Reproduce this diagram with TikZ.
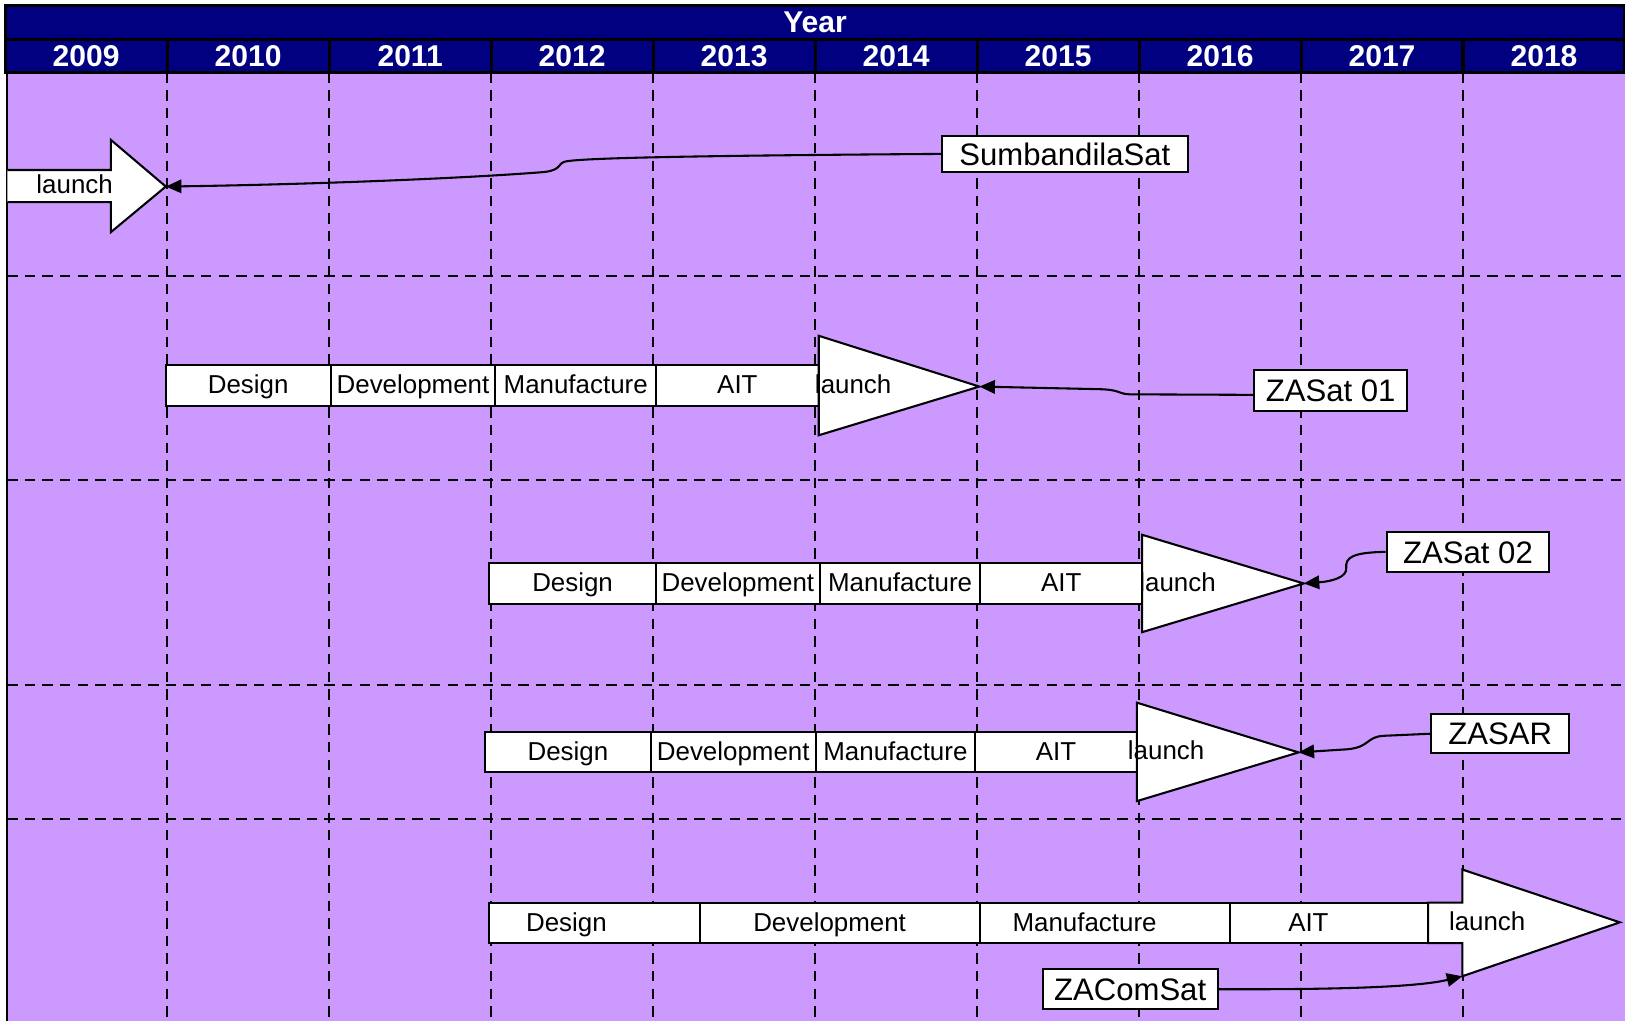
\documentclass[tikz,border=0pt]{standalone}
\usepackage{fontspec}
\setmainfont{Liberation Sans}
\usetikzlibrary{arrows.meta}

\definecolor{chartbg}{HTML}{CC99FF}
\definecolor{headblue}{HTML}{000080}

\tikzset{
  headcell/.style={draw=black, line width=1.5pt, fill=headblue, text=white,
    font=\fontsize{14.5}{16}\selectfont\bfseries, inner sep=0pt},
  phase/.style={draw=black, line width=1pt, fill=white, minimum height=19.5pt,
    inner sep=0pt, text height=10pt, text depth=2pt, font=\fontsize{12.5}{14}\selectfont},
  phasetext/.style={inner sep=0pt, text height=10pt, text depth=2pt, font=\fontsize{12.5}{14}\selectfont},
  satname/.style={draw=black, line width=1pt, fill=white, inner sep=0pt,
    text height=12pt, text depth=1.2pt, font=\fontsize{15}{17}\selectfont},
  launchbox/.style={draw=black, line width=1pt, fill=white},
  gridline/.style={dash pattern=on 5pt off 3.5pt, line width=0.8pt},
  pointer/.style={line width=1pt, -{Triangle[length=7.5pt,width=6.5pt]}}
}

\begin{document}
\begin{tikzpicture}[x=0.5pt, y=-0.5pt]
  \useasboundingbox (0,0) rectangle (1568,985);
  \fill[chartbg] (7,70) rectangle (1568,985);
  \draw[line width=0.75pt] (7,70) -- (7,985);
  % header
  \node[headcell, minimum width=781pt, minimum height=16.5pt] (yearhead) at (786.5,21.5) {Year};
  \foreach \i in {0,...,9} {
    \pgfmathtruncatemacro{\yr}{2009+\i}
    \node[headcell, minimum width=78.15pt, minimum height=16pt] (y\yr) at ({83.15+156.3*\i},54) {\yr};
  }
  % grid
  \foreach \i in {1,...,9}
    \draw[gridline] ({5+156.3*\i},70) -- ({5+156.3*\i},985);
  \foreach \y in {266,463,661,790}
    \draw[gridline] (7,\y) -- (1568,\y);

  % SumbandilaSat
  \draw[launchbox] (7,164) -- (107,164) -- (107,135) -- (160,180) coordinate (tip1)
    -- (107,224) -- (107,195) -- (7,195);
  \node[phasetext] (launch1) at (72,179) {launch};
  \node[satname, minimum width=118.5pt, minimum height=17.5pt] (sumbandila) at (1027.5,148.5) {SumbandilaSat};
  \draw[pointer] (sumbandila.west) .. controls (700,150) and (560,152) .. (545,156)
    .. controls (538,158) and (542,164) .. (525,166)
    .. controls (450,172) and (300,178) .. (tip1);

  % ZASat 01
  \node[phase, minimum width=79.5pt] (design1) at (239.5,372) {Design};
  \node[phase, minimum width=79.5pt] (devel1) at (398.5,372) {Development};
  \node[phase, minimum width=77.5pt] (manuf1) at (555.5,372) {Manufacture};
  \node[phase, minimum width=78.5pt] (ait1) at (711.5,372) {AIT};
  \draw[launchbox] (790,324) -- (945,373) coordinate (tip2) -- (790,420) -- cycle;
  \node[phasetext, anchor=west] (launch2) at (786,372) {launch};
  \node[satname, minimum width=74pt, minimum height=20pt] (zasat1) at (1284,377) {ZASat 01};
  \draw[pointer] ([yshift=-2pt]zasat1.west) -- (1090,380.5)
    .. controls (1078,380) and (1082,376) .. (1060,375.5) -- (tip2);

  % ZASat 02
  \node[phase, minimum width=80.5pt] (design2) at (552.5,563) {Design};
  \node[phase, minimum width=79pt] (devel2) at (712,563) {Development};
  \node[phase, minimum width=77.5pt] (manuf2) at (868.5,563) {Manufacture};
  \node[phase, minimum width=78pt] (ait2) at (1024,563) {AIT};
  \draw[launchbox] (1102,516) -- (1258,563) coordinate (tip3) -- (1102,610) -- cycle;
  \node[phasetext, anchor=west] (launch3) at (1099,563) {launch};
  \node[satname, minimum width=78.5pt, minimum height=19.5pt] (zasat2) at (1416.5,532.5) {ZASat 02};
  \draw[pointer] (zasat2.west) .. controls (1305,533) and (1298,538) .. (1299,548)
    .. controls (1300,557) and (1285,561) .. (tip3);

  % ZASAR
  \node[phase, minimum width=80pt] (design3) at (548,725.5) {Design};
  \node[phase, minimum width=79.5pt] (devel3) at (707.5,725.5) {Development};
  \node[phase, minimum width=77pt] (manuf3) at (864,725.5) {Manufacture};
  \node[phase, minimum width=78pt] (ait3) at (1019,725.5) {AIT};
  \draw[launchbox] (1097,678) -- (1253,726) coordinate (tip4) -- (1097,773) -- cycle;
  \node[phasetext, anchor=west] (launch4) at (1088,725) {launch};
  \node[satname, minimum width=66.5pt, minimum height=19pt] (zasar) at (1447.5,708) {ZASAR};
  \draw[pointer] (zasar.west) -- (1335,710) .. controls (1318,711) and (1322,721) .. (1300,723) -- (tip4);

  % ZAComSat
  \node[phase, minimum width=101.5pt, label={[phasetext, xshift=-13.5pt]center:Design}] (design4) at (573.5,890.5) {};
  \node[phase, minimum width=135.5pt, label={[phasetext, xshift=-5pt]center:Development}] (devel4) at (810.5,890.5) {};
  \node[phase, minimum width=120.5pt, label={[phasetext, xshift=-10pt]center:Manufacture}] (manuf4) at (1066.5,890.5) {};
  \node[phase, minimum width=95.5pt, label={[phasetext, xshift=-10pt]center:AIT}] (ait4) at (1282.5,890.5) {};
  \draw[launchbox] (1378,871) -- (1411,871) -- (1411,839) -- (1563,890)
    -- (1411,942) coordinate (corner5) -- (1411,910) -- (1378,910) -- cycle;
  \node[phasetext] (launch5) at (1435,890) {launch};
  \node[satname, minimum width=84.5pt, minimum height=19.5pt] (zacomsat) at (1090.5,954.5) {ZAComSat};
  \draw[pointer] (zacomsat.east) .. controls (1300,955) and (1370,952) .. (corner5);
\end{tikzpicture}
\end{document}
